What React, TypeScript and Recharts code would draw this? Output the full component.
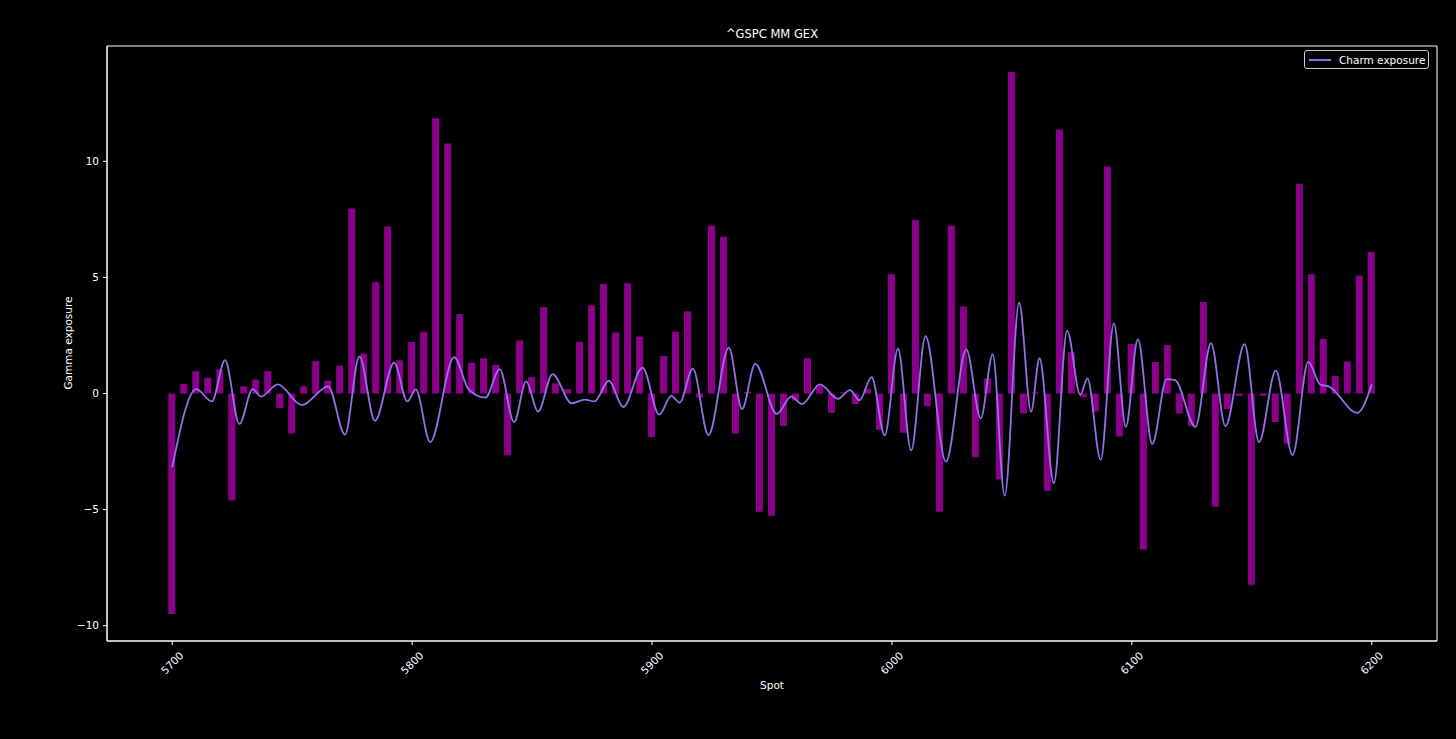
import React from 'react';
import { ComposedChart, Bar, Line, XAxis, YAxis, ReferenceArea } from 'recharts';

const strikes = [
  5700, 5705, 5710, 5715, 5720, 5725, 5730, 5735, 5740, 5745,
  5750, 5755, 5760, 5765, 5770, 5775, 5780, 5785, 5790, 5795,
  5800, 5805, 5810, 5815, 5820, 5825, 5830, 5835, 5840, 5845,
  5850, 5855, 5860, 5865, 5870, 5875, 5880, 5885, 5890, 5895,
  5900, 5905, 5910, 5915, 5920, 5925, 5930, 5935, 5940, 5945,
  5950, 5955, 5960, 5965, 5970, 5975, 5980, 5985, 5990, 5995,
  6000, 6005, 6010, 6015, 6020, 6025, 6030, 6035, 6040, 6045,
  6050, 6055, 6060, 6065, 6070, 6075, 6080, 6085, 6090, 6095,
  6100, 6105, 6110, 6115, 6120, 6125, 6130, 6135, 6140, 6145,
  6150, 6155, 6160, 6165, 6170, 6175, 6180, 6185, 6190, 6195,
  6200,
];

const gammaExposure = [
  -9.5, 0.42, 0.96, 0.68, 1.04, -4.6, 0.31, 0.6, 0.96, -0.62,
  -1.72, 0.31, 1.4, 0.55, 1.2, 7.97, 1.72, 4.79, 7.2, 1.43,
  2.22, 2.66, 11.86, 10.77, 3.42, 1.33, 1.52, 1.23, -2.66, 2.29,
  0.71, 3.72, 0.44, 0.19, 2.22, 3.8, 4.72, 2.63, 4.75, 2.45,
  -1.88, 1.62, 2.66, 3.54, -0.18, 7.24, 6.75, -1.72, 0.06, -5.09,
  -5.26, -1.4, -0.3, 1.52, 0.35, -0.83, 0.05, -0.45, 0.2, -1.56,
  5.14, -1.69, 7.48, -0.55, -5.09, 7.24, 3.75, -2.74, 0.65, -3.7,
  13.85, -0.86, 0.05, -4.19, 11.37, 1.78, -0.16, -0.78, 9.78, -1.85,
  2.14, -6.72, 1.36, 2.09, -0.86, -1.4, 3.94, -4.88, -0.67, -0.1,
  -8.24, -0.1, -1.23, -2.17, 9.04, 5.14, 2.35, 0.76, 1.38, 5.08,
  6.1,
];

const charmSpot = [
  5700, 5710, 5716.5, 5722, 5728, 5733.5, 5737, 5744, 5754, 5765,
  5772, 5778, 5784.5, 5792.5, 5798, 5801.5, 5807.5, 5817.5, 5823.5, 5830.5,
  5836.5, 5842.5, 5847.5, 5852.5, 5858.5, 5866.5, 5872, 5876, 5882, 5888,
  5896, 5903, 5908, 5911.5, 5917, 5923.5, 5932, 5937.5, 5943, 5952,
  5958, 5962.5, 5970, 5977.5, 5982.5, 5986.5, 5991.5, 5997, 6002.5, 6008,
  6014, 6022.5, 6031, 6037, 6042, 6047, 6053, 6058, 6061.5, 6067.5,
  6073, 6078.5, 6081.5, 6087, 6092.5, 6097.5, 6102.5, 6108.5, 6114.5, 6118,
  6126.5, 6133, 6139, 6147, 6153, 6160, 6167, 6173.5, 6178.5, 6182,
  6194, 6200,
];

const charmExposure = [
  -3.18, 0.19, -0.34, 1.44, -1.31, 0.19, -0.13, 0.39, -0.5, 0.31,
  -1.77, 1.6, -1.18, 1.33, -0.34, 0.18, -2.09, 1.57, 0.19, -0.18,
  1.04, -1.23, 0.52, -0.78, 0.84, -0.42, -0.26, -0.34, 0.55, -0.58,
  1.12, -0.91, -0.1, -0.39, 1.07, -1.8, 1.98, -0.67, 1.28, -0.88,
  -0.13, -0.45, 0.39, -0.23, 0.15, -0.29, 0.71, -1.8, 1.93, -2.45,
  2.47, -2.94, 1.9, -1.07, 1.69, -4.4, 3.91, -0.78, 1.52, -3.86,
  2.71, -0.05, 0.65, -2.86, 3.02, -1.43, 2.34, -2.17, 0.62, 0.58,
  -1.44, 2.17, -1.4, 2.13, -2.09, 1.0, -2.66, 1.36, 0.39, 0.31,
  -0.83, 0.39,
];

const xTicks = [5700, 5800, 5900, 6000, 6100, 6200];
const yTicks = [-10, -5, 0, 5, 10];

const X_DOMAIN: [number, number] = [5672.8, 6227.2];
const Y_DOMAIN: [number, number] = [-10.66, 14.97];

const barData = strikes.map((s, i) => ({ spot: s, gex: gammaExposure[i] }));
const lineData = charmSpot.map((s, i) => ({ spot: s, charm: charmExposure[i] }));

const FONT = '"DejaVu Sans", sans-serif';
const BAR_COLOR = '#8b008b';
const LINE_COLOR = '#9170e8';

const fmt = (v: number) => (v < 0 ? '\u2212' + Math.abs(v) : String(v));

const XTick = (props: any) => {
  const { x, y, payload } = props;
  return (
    <g transform={`translate(${x},${y})`}>
      <text
        transform="translate(0,16) rotate(-45)"
        textAnchor="middle"
        dy="0.35em"
        fill="#ffffff"
        fontSize={10.5}
        fontFamily={FONT}
      >
        {fmt(payload.value)}
      </text>
    </g>
  );
};

const YTick = (props: any) => {
  const { x, y, payload } = props;
  return (
    <text x={x} y={y} dy="0.35em" textAnchor="end" fill="#ffffff" fontSize={10.5} fontFamily={FONT}>
      {fmt(payload.value)}
    </text>
  );
};

export default function App() {
  return (
    <div
      style={{
        position: 'fixed',
        left: 0,
        top: 0,
        width: 1456,
        height: 739,
        background: '#000000',
        fontFamily: FONT,
        overflow: 'hidden',
      }}
    >
      <ComposedChart
        width={1456}
        height={739}
        data={barData}
        margin={{ top: 46, right: 19, bottom: 48, left: 47 }}
      >
        <XAxis
          xAxisId="bars"
          dataKey="spot"
          type="number"
          domain={X_DOMAIN}
          allowDataOverflow
          ticks={xTicks}
          interval={0}
          height={50}
          stroke="#ffffff"
          tickLine={{ stroke: '#ffffff' }}
          tickSize={4}
          tick={<XTick />}
        />
        <XAxis
          xAxisId="line"
          dataKey="spot"
          type="number"
          domain={X_DOMAIN}
          allowDataOverflow
          hide
        />
        <YAxis
          type="number"
          domain={Y_DOMAIN}
          allowDataOverflow
          ticks={yTicks}
          interval={0}
          width={60}
          stroke="#ffffff"
          tickLine={{ stroke: '#ffffff' }}
          tickSize={4}
          tickMargin={4}
          tick={<YTick />}
        />
        <ReferenceArea
          xAxisId="bars"
          x1={X_DOMAIN[0]}
          x2={X_DOMAIN[1]}
          y1={Y_DOMAIN[0]}
          y2={Y_DOMAIN[1]}
          fill="none"
          stroke="#ffffff"
          strokeWidth={1}
          ifOverflow="visible"
        />
        <Bar xAxisId="bars" dataKey="gex" fill={BAR_COLOR} barSize={7} isAnimationActive={false} />
        <Line
          xAxisId="line"
          data={lineData}
          dataKey="charm"
          type="monotone"
          stroke={LINE_COLOR}
          strokeWidth={1.8}
          dot={false}
          activeDot={false}
          isAnimationActive={false}
        />
      </ComposedChart>

      <div
        style={{
          position: 'absolute',
          left: 107,
          width: 1330,
          top: 27,
          textAlign: 'center',
          color: '#ffffff',
          fontSize: 11.5,
          lineHeight: '14px',
        }}
      >
        ^GSPC MM GEX
      </div>
      <div
        style={{
          position: 'absolute',
          left: 107,
          width: 1330,
          top: 678,
          textAlign: 'center',
          color: '#ffffff',
          fontSize: 10.5,
          lineHeight: '14px',
        }}
      >
        Spot
      </div>
      <div
        style={{
          position: 'absolute',
          left: 68 - 60,
          top: 343 - 7,
          width: 120,
          textAlign: 'center',
          color: '#ffffff',
          fontSize: 10.5,
          lineHeight: '14px',
          transform: 'rotate(-90deg)',
        }}
      >
        Gamma exposure
      </div>
      <div
        style={{
          position: 'absolute',
          left: 1304,
          top: 50,
          width: 125,
          height: 19,
          boxSizing: 'border-box',
          border: '1px solid #cccccc',
          borderRadius: 3,
          background: '#000000',
          display: 'flex',
          alignItems: 'center',
          color: '#ffffff',
          fontSize: 10.5,
        }}
      >
        <div style={{ width: 22, height: 0, borderTop: `2px solid ${LINE_COLOR}`, marginLeft: 4, marginRight: 8 }} />
        <span style={{ whiteSpace: 'nowrap' }}>Charm exposure</span>
      </div>
    </div>
  );
}
